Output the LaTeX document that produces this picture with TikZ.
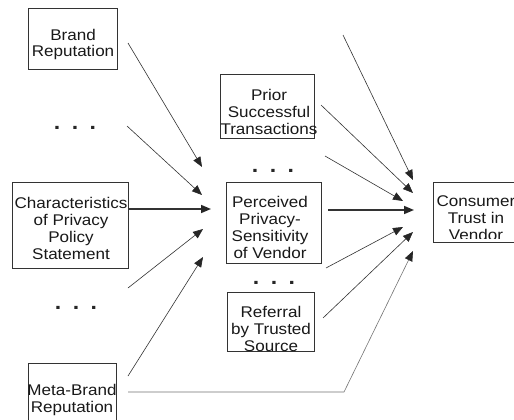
\documentclass[tikz,border=0pt]{standalone}
\usepackage{fontspec}
\setmainfont{Liberation Sans}[FakeStretch=1.1]
\usetikzlibrary{arrows.meta}
\begin{document}
\begin{tikzpicture}[x=1pt,y=-1pt,
  box/.style={draw=black!80,line width=0.8pt,inner sep=0pt},
  txt/.style={align=center,anchor=base,inner sep=0pt,text=black!90,
    font=\fontsize{15.5}{17}\selectfont},
  dotrow/.style={anchor=base,inner sep=0pt,text=black!85,
    font=\bfseries\fontsize{21}{21}\selectfont},
  link/.style={draw=black!80,line width=0.6pt,
    -{Triangle[length=10pt,width=8pt,color=black!85]}},
  heavy/.style={link,line width=1.5pt}]
\clip (0,0) rectangle (514,420);
\fill[white] (0,0) rectangle (514,420);

% factor boxes
\node[box,minimum width=89pt,minimum height=61pt] (brand) at (72.5,38.5) {};
\node[box,minimum width=116pt,minimum height=86pt] (charac) at (70,225) {};
\node[box,minimum width=88pt,minimum height=74pt] (meta) at (72,400) {};
\node[box,minimum width=94pt,minimum height=64pt] (prior) at (267,106) {};
\node[box,minimum width=95pt,minimum height=81pt] (privacy) at (273.5,222.5) {};
\node[box,minimum width=87pt,minimum height=59pt] (referral) at (270.5,321.5) {};
\node[box,minimum width=127pt,minimum height=60pt] (trust) at (496.5,212) {};

% labels (anchored on the baseline of their last line)
\node[txt] (brand-t) at (73,57) {Brand\\Reputation};
\node[txt] (charac-t) at (71,259) {Characteristics\\of Privacy\\Policy\\Statement};
\node[txt] (meta-t) at (72,412) {Meta-Brand\\Reputation};
\node[txt] (prior-t) at (269,134) {Prior\\Successful\\Transactions};
\node[txt] (privacy-t) at (270,258) {Perceived\\Privacy-\\Sensitivity\\of Vendor};
\begin{scope}
  \clip (200,290) rectangle (330,350);
  \node[txt] (referral-t) at (271,351) {Referral\\by Trusted\\Source};
\end{scope}
\begin{scope}
  \clip (430,183) rectangle (514,238.5);
  \node[txt] (trust-t) at (476,240) {Consumer\\Trust in\\Vendor};
\end{scope}

% ellipses standing for further factors
\newcommand\moredots{.\hspace{11.5pt}.\hspace{11.5pt}.}
\node[dotrow] (dots-a) at (75,129) {\moredots};
\node[dotrow] (dots-b) at (76,309) {\moredots};
\node[dotrow] (dots-c) at (273,172) {\moredots};
\node[dotrow] (dots-d) at (274,284) {\moredots};

% arrow end points
\coordinate (brand-out) at (128,43);
\coordinate (dots-a-out) at (127,126);
\coordinate (charac-out) at (128,209);
\coordinate (dots-b-out) at (128,288);
\coordinate (meta-out) at (128,376);
\coordinate (meta-out2) at (128,392);
\coordinate (meta-bend) at (344,392);
\coordinate (top-in) at (343,35);
\coordinate (prior-out) at (321,105);
\coordinate (dots-c-out) at (325,156);
\coordinate (privacy-out) at (328,210);
\coordinate (dots-d-out) at (326,268);
\coordinate (referral-out) at (323,318);

\coordinate (p1) at (202,167);
\coordinate (p2) at (202,195);
\coordinate (p3) at (211,209);
\coordinate (p4) at (203,229);
\coordinate (p5) at (203,257);

\coordinate (t0) at (413,180);
\coordinate (t1) at (413,193);
\coordinate (t2) at (403,201);
\coordinate (t3) at (414,210);
\coordinate (t4) at (403,227);
\coordinate (t5) at (413,232);
\coordinate (t6) at (413,251);

% links into perceived privacy-sensitivity
\draw[link] (brand-out) -- (p1);
\draw[link] (dots-a-out) -- (p2);
\draw[heavy] (charac-out) -- (p3);
\draw[link] (dots-b-out) -- (p4);
\draw[link] (meta-out) -- (p5);

% links into consumer trust
\draw[link] (top-in) -- (t0);
\draw[link] (prior-out) -- (t1);
\draw[link] (dots-c-out) -- (t2);
\draw[heavy] (privacy-out) -- (t3);
\draw[link] (dots-d-out) -- (t4);
\draw[link] (referral-out) -- (t5);
\draw[link,draw=black!55] (meta-out2) -- (meta-bend) -- (t6);
\end{tikzpicture}
\end{document}
